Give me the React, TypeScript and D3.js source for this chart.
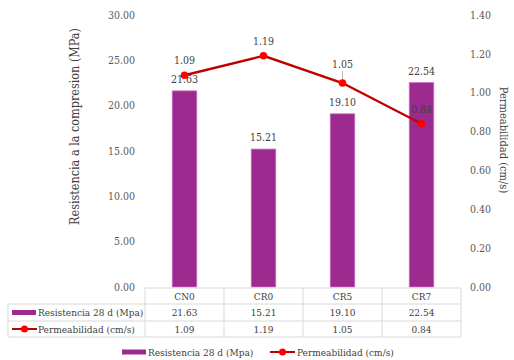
import React from "react";
import * as d3 from "d3";

const categories = ["CN0", "CR0", "CR5", "CR7"];
const resistencia = [21.63, 15.21, 19.1, 22.54];
const permeabilidad = [1.09, 1.19, 1.05, 0.84];
const leftTicks = [0, 5, 10, 15, 20, 25, 30];
const rightTicks = [0, 0.2, 0.4, 0.6, 0.8, 1.0, 1.2, 1.4];
const barName = "Resistencia 28 d (Mpa)";
const lineName = "Permeabilidad (cm/s)";
const leftTitle = "Resistencia a la compresion (MPa)";
const rightTitle = "Permeabilidad (cm/s)";

const W = 514;
const H = 360;
const plot = { left: 145, right: 461, top: 15, bottom: 287 };
const BAR = "#9c2a8f";
const BAR_EDGE = "#c86cc0";
const LINE = "#c00000";
const MARK = "#ff0000";
const TXT = "#404040";
const TICK = "#595959";
const GRID = "#d9d9d9";
const cond: React.CSSProperties = { fontFamily: "DejaVu Serif", fontStretch: "condensed" };

export default function App() {
  const inner = 0.69;
  const x = d3
    .scaleBand<string>()
    .domain(categories)
    .range([plot.left, plot.right])
    .paddingInner(inner)
    .paddingOuter(inner / 2);
  const step = x.step();
  const colStart = (i: number) => plot.left + i * step;
  const cx = (c: string) => (x(c) as number) + x.bandwidth() / 2;
  const yL = d3.scaleLinear().domain([0, 30]).range([plot.bottom, plot.top]);
  const yR = d3.scaleLinear().domain([0, 1.4]).range([plot.bottom, plot.top]);

  const line = d3
    .line<number>()
    .x((_, i) => cx(categories[i]))
    .y((d) => yR(d));

  // data table grid
  const tableLeft = 8;
  const rows = [288, 304, 321, 337];
  const colEdges = categories.map((_, i) => colStart(i)).concat([plot.right]);
  const rowMid = (k: number) => (rows[k] + rows[k + 1]) / 2;

  return (
    <svg width={W} height={H} style={{ position: "absolute", left: 0, top: 0, background: "#fff" }}>
      {/* bars */}
      {categories.map((c, i) => (
        <rect
          key={c}
          x={x(c)}
          y={yL(resistencia[i])}
          width={x.bandwidth()}
          height={yL(0) - yL(resistencia[i])}
          fill={BAR}
          stroke={BAR_EDGE}
          strokeWidth={0.8}
        />
      ))}
      {categories.map((c, i) => (
        <text key={c} x={cx(c)} y={yL(resistencia[i]) - 8} textAnchor="middle" fontSize={10.5} fill={TXT} style={cond}>
          {resistencia[i].toFixed(2)}
        </text>
      ))}
      {/* permeability line */}
      <path d={line(permeabilidad) || ""} fill="none" stroke={LINE} strokeWidth={2.4} />
      {categories.map((c, i) => (
        <circle key={c} cx={cx(c)} cy={yR(permeabilidad[i])} r={3.8} fill={MARK} />
      ))}
      <line x1={cx("CR5")} x2={cx("CR5")} y1={yR(permeabilidad[2]) - 12} y2={yR(permeabilidad[2]) - 4} stroke="#a6a6a6" strokeWidth={0.8} />
      {categories.map((c, i) => (
        <text key={c} x={cx(c)} y={yR(permeabilidad[i]) - (i === 2 ? 15 : 11)} textAnchor="middle" fontSize={10.5} fill={TXT} style={cond}>
          {permeabilidad[i].toFixed(2)}
        </text>
      ))}
      {/* axes */}
      {leftTicks.map((t) => (
        <text key={t} x={135} y={yL(t)} dy="0.35em" textAnchor="end" fontSize={10.5} fill={TICK} style={cond}>
          {t.toFixed(2)}
        </text>
      ))}
      {rightTicks.map((t) => (
        <text key={t} x={470} y={yR(t)} dy="0.35em" textAnchor="start" fontSize={10.5} fill={TICK} style={cond}>
          {t.toFixed(2)}
        </text>
      ))}
      <text transform={`translate(79,${(40 + 213) / 2}) rotate(-90)`} textAnchor="middle" fontSize={12.5} fill={TXT} style={cond}>
        {leftTitle}
      </text>
      <text transform={`translate(500,140) rotate(90)`} textAnchor="middle" fontSize={11} fill={TXT} style={cond}>
        {rightTitle}
      </text>
      {/* data table */}
      <g stroke={GRID} strokeWidth={1}>
        <line x1={plot.left} x2={plot.right} y1={rows[0]} y2={rows[0]} />
        {rows.slice(1).map((r) => (
          <line key={r} x1={tableLeft} x2={plot.right} y1={r} y2={r} />
        ))}
        {colEdges.map((e) => (
          <line key={e} x1={e} x2={e} y1={rows[0]} y2={rows[3]} />
        ))}
        <line x1={tableLeft} x2={tableLeft} y1={rows[1]} y2={rows[3]} />
      </g>
      {categories.map((c, i) => (
        <g key={c} fontSize={10} fill={TXT} textAnchor="middle" style={cond}>
          <text x={colStart(i) + step / 2} y={rowMid(0)} dy="0.35em">{c}</text>
          <text x={colStart(i) + step / 2} y={rowMid(1)} dy="0.35em">{resistencia[i].toFixed(2)}</text>
          <text x={colStart(i) + step / 2} y={rowMid(2)} dy="0.35em">{permeabilidad[i].toFixed(2)}</text>
        </g>
      ))}
      <rect x={12} y={rowMid(1) - 2.5} width={24} height={5} fill={BAR} />
      <text x={38} y={rowMid(1)} dy="0.35em" fontSize={10} fill={TXT} style={cond}>{barName}</text>
      <line x1={12} x2={37} y1={rowMid(2)} y2={rowMid(2)} stroke={LINE} strokeWidth={2} />
      <circle cx={24.5} cy={rowMid(2)} r={3.5} fill={MARK} />
      <text x={38} y={rowMid(2)} dy="0.35em" fontSize={10} fill={TXT} style={cond}>{lineName}</text>
      {/* legend */}
      <rect x={122} y={349.5} width={24} height={5} fill={BAR} />
      <text x={148} y={352} dy="0.35em" fontSize={10} fill={TXT} style={cond}>{barName}</text>
      <line x1={270} x2={295} y1={352} y2={352} stroke={LINE} strokeWidth={2} />
      <circle cx={282.5} cy={352} r={3.5} fill={MARK} />
      <text x={297} y={352} dy="0.35em" fontSize={10} fill={TXT} style={cond}>{lineName}</text>
    </svg>
  );
}
